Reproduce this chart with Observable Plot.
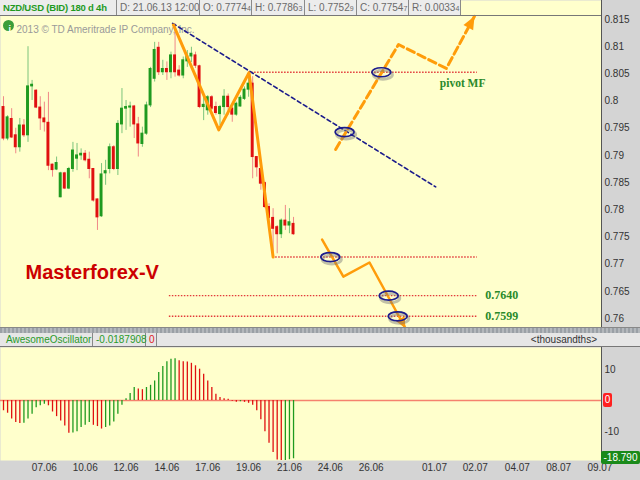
<!DOCTYPE html>
<html><head><meta charset="utf-8">
<script src="https://cdn.jsdelivr.net/npm/d3@7"></script>
<script src="https://cdn.jsdelivr.net/npm/@observablehq/plot@0.6"></script>
<style>
html,body{margin:0;padding:0;background:#fff;}
#wrap{position:relative;width:640px;height:480px;overflow:hidden;background:#d4d4d4;font-family:"Liberation Sans",Arial,sans-serif;}
#wrap svg{position:absolute;left:0;}
.hdr{position:absolute;left:0;top:0;height:15px;display:flex;font-size:10px;line-height:15px;}
.hdr span{display:block;box-sizing:border-box;height:15px;border-right:1px solid #8a8a8a;background:#ececec;color:#6a6a6a;padding-left:3px;white-space:nowrap;overflow:hidden;}
.hdr span.sym{color:#1f9a1f;font-weight:bold;padding-left:3px;font-size:9.5px;letter-spacing:-0.2px;}
.hdr small{font-size:7px;}
.hline{position:absolute;left:0;width:601px;height:1px;background:#777;}
.vline{position:absolute;left:601px;width:1px;background:#555;}
.sep{position:absolute;left:0;top:327px;width:640px;height:6px;background:repeating-linear-gradient(90deg,#9aa0a6 0 2px,#b4b8bc 2px 4px);border-top:1px solid #888;box-sizing:border-box;}
.ohdr{position:absolute;left:0;top:333px;width:640px;height:14px;background:#e6e6e6;border-bottom:1px solid #777;box-sizing:border-box;font-size:10px;line-height:13px;}
.ohdr span{position:absolute;top:0;height:13px;box-sizing:border-box;white-space:nowrap;}
.box{position:absolute;font-size:10px;line-height:13px;color:#fff;text-align:center;border-radius:2px;}
</style></head><body><div id="wrap"></div>
<script>
// ---------------- DATA ----------------
const candleOpen  = [0.7989,0.7931,0.7967,0.7937,0.7915,0.7955,0.7937,0.8027,0.8019,0.7988,0.7968,0.7960,0.7883,0.7874,0.7823,0.7867,0.7839,0.7875,0.7894,0.7900,0.7903,0.7892,0.7875,0.7819,0.7788,0.7867,0.7875,0.7915,0.7875,0.7957,0.7986,0.7988,0.7990,0.7957,0.7921,0.7940,0.7992,0.8041,0.8098,0.8053,0.8059,0.8053,0.8084,0.8056,0.8047,0.8073,0.8082,0.8084,0.8064,0.7989,0.7983,0.8007,0.7989,0.7976,0.7989,0.8008,0.7986,0.7975,0.7990,0.8004,0.8021,0.8032,0.7897,0.7875,0.7849,0.7805,0.7785,0.7768,0.7755,0.7780,0.7771,0.7774];
const candleHigh  = [0.8008,0.7973,0.7986,0.7950,0.7968,0.7966,0.8100,0.8038,0.8021,0.8008,0.7998,0.8016,0.7884,0.7897,0.7869,0.7869,0.7878,0.7924,0.7922,0.7912,0.7909,0.7906,0.7876,0.7820,0.7885,0.7891,0.7921,0.7918,0.7964,0.8023,0.8001,0.7998,0.7992,0.7970,0.7952,0.7998,0.8062,0.8108,0.8108,0.8075,0.8072,0.8090,0.8142,0.8065,0.8081,0.8093,0.8099,0.8090,0.8066,0.8007,0.8010,0.8010,0.7998,0.7992,0.8021,0.8013,0.7989,0.7998,0.8010,0.8026,0.8050,0.8045,0.7898,0.7891,0.7851,0.7811,0.7802,0.7771,0.7783,0.7808,0.7802,0.7786];
const candleLow   = [0.7927,0.7927,0.7931,0.7903,0.7906,0.7933,0.7924,0.8001,0.7986,0.7946,0.7943,0.7872,0.7860,0.7872,0.7822,0.7837,0.7837,0.7869,0.7872,0.7891,0.7888,0.7857,0.7814,0.7762,0.7786,0.7845,0.7866,0.7872,0.7863,0.7940,0.7946,0.7952,0.7931,0.7897,0.7915,0.7937,0.7988,0.8035,0.8047,0.8047,0.8038,0.8041,0.8044,0.8044,0.8041,0.8062,0.8071,0.8060,0.7986,0.7964,0.7974,0.7983,0.7974,0.7955,0.7974,0.7974,0.7961,0.7972,0.7989,0.8001,0.8007,0.7857,0.7860,0.7836,0.7802,0.7765,0.7715,0.7719,0.7747,0.7762,0.7756,0.7753];
const candleClose = [0.7931,0.7970,0.7933,0.7915,0.7955,0.7937,0.8027,0.8030,0.7988,0.7968,0.7961,0.7881,0.7873,0.7886,0.7867,0.7839,0.7875,0.7909,0.7900,0.7903,0.7891,0.7875,0.7817,0.7786,0.7865,0.7871,0.7915,0.7875,0.7958,0.7986,0.7989,0.7990,0.7957,0.7922,0.7940,0.7992,0.8059,0.8094,0.8053,0.8059,0.8053,0.8084,0.8053,0.8047,0.8075,0.8082,0.8087,0.8065,0.7989,0.7993,0.8007,0.7986,0.7978,0.7989,0.8008,0.7989,0.7975,0.7995,0.8006,0.8021,0.8032,0.7897,0.7878,0.7848,0.7805,0.7785,0.7765,0.7755,0.7780,0.7771,0.7777,0.7755];
const aoValues = [-3.3,-4.1,-6.0,-7.1,-7.4,-7.3,-6.0,-4.4,-2.3,-1.7,-1.2,-1.7,-3.7,-5.2,-6.6,-8.2,-10.6,-10.5,-10.1,-8.7,-8.0,-7.1,-8.0,-8.4,-9.2,-8.7,-8.2,-6.9,-4.4,-1.5,0.6,2.3,4.2,3.7,3.5,4.2,4.9,6.3,9.0,11.0,12.5,13.3,13.5,12.8,12.5,12.4,12.0,11.2,10.1,8.5,6.3,4.2,2.0,1.0,0.6,0.4,-0.2,-0.6,-0.4,-0.6,-0.9,-1.5,-3.3,-6.2,-10.1,-13.8,-16.8,-19.2,-19.5,-19.4,-19.1,-18.79];
const priceTicks = [0.76,0.765,0.77,0.775,0.78,0.785,0.79,0.795,0.8,0.805,0.81,0.815];
const aoTicks = [10,-10];
const dateTickBars = [10,20,30,40,50,60,70,80,90,105.5,115.5,125.8,135.9,146];
const dateTickLabels = ["07.06","10.06","12.06","14.06","17.06","19.06","21.06","24.06","26.06","01.07","02.07","04.07","08.07","09.07"];
const zigzagBar = [41.6,52.7,60.1,66.0];
const zigzagPrice = [0.8140,0.7947,0.8052,0.7713];
const trendBar = [41.4,105.8];
const trendPrice = [0.8143,0.7842];
const levelPrice = [0.8053,0.7713,0.7642,0.7604];
const levelStartBar = [60.0,65.9,40.6,40.6];
const levelEndBar = [116.0,116.0,116.0,116.0];
const levelLabels = ["","","0.7640","0.7599"];
const upPathBar = [81.3,96.7,108.4,115.3];
const upPathPrice = [0.7911,0.8104,0.8060,0.8156];
const downPathBar = [78.0,83.2,89.6,98.4];
const downPathPrice = [0.7745,0.7677,0.7703,0.7582];
const ellipseBar = [92.5,83.5,80.0,94.3,96.5];
const ellipsePrice = [0.8053,0.7943,0.7713,0.7642,0.7604];
const pivotNote = {bar:112.4, price:0.8032, text:"pivot MF"};
const brandNote = {bar:5.4, price:0.7685, text:"Masterforex-V"};
const copyrightText = "2013 \u00a9 TD Ameritrade IP Company, Inc.";
const headerSymbol = "NZD/USD (BID) 180 d 4h";
const headerFields = [["D: 21.06.13 12:00",""],["O: 0.7774","4"],["H: 0.7786","3"],["L: 0.7752","9"],["C: 0.7754","7"],["R: 0.0033","4"]];
const oscName = "AwesomeOscillator";
const oscValueText = "-0.0187908";
const oscZeroText = "0";
const oscUnits = "<thousandths>";

// ---------------- TABLES ----------------
const candles = candleOpen.map((o,i)=>({i, open:o, high:candleHigh[i], low:candleLow[i], close:candleClose[i], up:candleClose[i]>=o}));
const ao = aoValues.map((v,i)=>({i, v, up: i>0 && v>aoValues[i-1]}));
const zigzag = zigzagBar.map((b,k)=>({b, p:zigzagPrice[k]}));
const trend = trendBar.map((b,k)=>({b, p:trendPrice[k]}));
const levels = levelPrice.map((p,k)=>({p, s:levelStartBar[k], e:levelEndBar[k], label:levelLabels[k]}));
const upPath = upPathBar.map((b,k)=>({b, p:upPathPrice[k]}));
const downPath = downPathBar.map((b,k)=>({b, p:downPathPrice[k]}));
const ellipses = ellipseBar.map((b,k)=>({b, p:ellipsePrice[k]}));
const dateTicks = dateTickBars.map((b,k)=>({b, label:dateTickLabels[k]}));

// ---------------- LAYOUT ----------------
const xDomain = [-0.734, 146.39];
const priceDomain = [0.75834, 0.8185];
const priceH = 327, plotW = 601;
const kx = plotW/(xDomain[1]-xDomain[0]);
const ky = priceH/(priceDomain[1]-priceDomain[0]);
const ORANGE = "#ff9c0a", NAVY = "#1c1c8c", GREEN = "#1f9a1f", RED = "#e01010";
const FONT = "'Liberation Sans', Arial, sans-serif";

function headSymbol(pts, L, Wd){
  const a = pts[pts.length-2], z = pts[pts.length-1];
  const dx = (z.b-a.b)*kx, dy = -(z.p-a.p)*ky, n = Math.hypot(dx,dy);
  const ux = dx/n, uy = dy/n;
  return {draw(ctx){
    const bx=-L*ux, by=-L*uy, px=-uy*Wd/2, py=ux*Wd/2;
    ctx.moveTo(0,0); ctx.lineTo(bx+px,by+py); ctx.lineTo(bx-px,by-py); ctx.closePath();
  }};
}
const ellipseSymbol = {draw(ctx){
  const rx=9.5, ry=4.5, k=0.5523;
  ctx.moveTo(rx,0);
  ctx.bezierCurveTo(rx,k*ry,k*rx,ry,0,ry);
  ctx.bezierCurveTo(-k*rx,ry,-rx,k*ry,-rx,0);
  ctx.bezierCurveTo(-rx,-k*ry,-k*rx,-ry,0,-ry);
  ctx.bezierCurveTo(k*rx,-ry,rx,-k*ry,rx,0);
  ctx.closePath();
}};

const pricePlot = Plot.plot({
  width: 640, height: priceH,
  marginLeft: 0, marginRight: 640-plotW, marginTop: 0, marginBottom: 0,
  x: {domain: xDomain, axis: null},
  y: {domain: priceDomain, axis: null},
  style: {background: "#d4d4d4", fontFamily: FONT, fontSize: "10px", overflow: "visible"},
  marks: [
    Plot.frame({fill: "#ffffcc", stroke: null}),
    Plot.dot([0], {frameAnchor: "top-left", dx: 8, dy: 25, r: 5.5, fill: "#3a9e3a"}),
    Plot.text(["i"], {frameAnchor: "top-left", dx: 8, dy: 25, text: d=>d, fill: "#fff", fontWeight: "bold", fontSize: 9}),
    Plot.text([copyrightText], {frameAnchor: "top-left", dx: 16, dy: 25, text: d=>d, textAnchor: "start", fill: "#9a9a9a", fontSize: 10}),
    Plot.ruleY(levels, {y: "p", x1: "s", x2: "e", stroke: "#e23a3a", strokeWidth: 1.4, strokeDasharray: "1.5,1.5"}),
    Plot.ruleX(candles, {x: "i", y1: "low", y2: "high", stroke: d=>d.up ? "#7cc47c" : "#f08888", strokeWidth: 1}),
    Plot.rect(candles, {x1: d=>d.i-0.36, x2: d=>d.i+0.36, y1: "open", y2: "close", fill: d=>d.up ? GREEN : RED, insetTop: -0.5, insetBottom: -0.5}),
    Plot.line(trend, {x: "b", y: "p", stroke: NAVY, strokeWidth: 1.6, strokeDasharray: "4,3"}),
    Plot.line(zigzag, {x: "b", y: "p", stroke: ORANGE, strokeWidth: 3, strokeLinejoin: "round"}),
    Plot.line(upPath, {x: "b", y: "p", stroke: ORANGE, strokeWidth: 3, strokeDasharray: "8,4"}),
    Plot.dot(upPath.slice(-1), {x: "b", y: "p", symbol: headSymbol(upPath, 13, 11), r: 5, fill: ORANGE, stroke: null}),
    Plot.line(downPath, {x: "b", y: "p", stroke: ORANGE, strokeWidth: 2.5}),
    Plot.dot(downPath.slice(-1), {x: "b", y: "p", symbol: headSymbol(downPath, 11, 10), r: 5, fill: ORANGE, stroke: null}),
    Plot.dot(ellipses, {x: "b", y: "p", symbol: ellipseSymbol, r: 5, fill: "none", stroke: "#777", strokeOpacity: 0.45, strokeWidth: 3, dx: 1.5, dy: 2.5}),
    Plot.dot(ellipses, {x: "b", y: "p", symbol: ellipseSymbol, r: 5, fill: "none", stroke: NAVY, strokeWidth: 1.7}),
    Plot.text(levels.filter(d=>d.label), {x: "e", y: "p", text: "label", dx: 8, textAnchor: "start", fill: "#2a8a2a", fontWeight: "bold", fontSize: 12, fontFamily: "'Liberation Serif', serif"}),
    Plot.text([pivotNote], {x: "bar", y: "price", text: "text", fill: "#2a8a2a", fontWeight: "bold", fontSize: 11.5, fontFamily: "'Liberation Serif', serif"}),
    Plot.text([brandNote], {x: "bar", y: "price", text: "text", textAnchor: "start", fill: "#cc0000", fontWeight: "bold", fontSize: 20}),
    Plot.text(priceTicks, {y: d=>d, frameAnchor: "right", dx: 3, textAnchor: "start", text: d=>String(+d.toFixed(3)), fill: "#333", fontSize: 10})
  ]
});

const aoDomain = [-19.35, 17.1];
const aoPlot = Plot.plot({
  width: 640, height: 133,
  marginLeft: 0, marginRight: 640-plotW, marginTop: 0, marginBottom: 20,
  x: {domain: xDomain, axis: null},
  y: {domain: aoDomain, axis: null, clamp: true},
  style: {background: "#d4d4d4", fontFamily: FONT, fontSize: "10px", overflow: "visible"},
  marks: [
    Plot.frame({fill: "#ffffcc", stroke: null}),
    Plot.ruleY([0], {stroke: "#f5826e", strokeWidth: 1.6}),
    Plot.ruleX(ao, {x: "i", y1: 0, y2: "v", stroke: d=>d.up ? GREEN : RED, strokeWidth: 1.3}),
    Plot.text(aoTicks, {y: d=>d, frameAnchor: "right", dx: 3, textAnchor: "start", text: d=>String(d), fill: "#333", fontSize: 10}),
    Plot.text(dateTicks, {x: "b", frameAnchor: "bottom", dy: 10, text: "label", fill: "#333", fontSize: 10})
  ]
});

// ---------------- ASSEMBLE ----------------
const wrap = document.getElementById("wrap");
pricePlot.style.top = "0px";
aoPlot.style.top = "347px";
wrap.appendChild(pricePlot);
wrap.appendChild(aoPlot);

const hdr = document.createElement("div"); hdr.className = "hdr";
const widths = [117,83,52,53,52,52,52];
const s0 = document.createElement("span"); s0.className = "sym"; s0.style.width = widths[0]+"px"; s0.textContent = headerSymbol; hdr.appendChild(s0);
headerFields.forEach((f,k)=>{
  const s = document.createElement("span"); s.style.width = widths[k+1]+"px";
  s.textContent = f[0];
  if (f[1]) { const sm = document.createElement("small"); sm.textContent = f[1]; s.appendChild(sm); }
  hdr.appendChild(s);
});
wrap.appendChild(hdr);
const hl = document.createElement("div"); hl.className = "hline"; hl.style.top = "15px"; wrap.appendChild(hl);

const v1 = document.createElement("div"); v1.className = "vline"; v1.style.top = "0px"; v1.style.height = "327px"; wrap.appendChild(v1);
const v2 = document.createElement("div"); v2.className = "vline"; v2.style.top = "347px"; v2.style.height = "113px"; wrap.appendChild(v2);

const sep = document.createElement("div"); sep.className = "sep"; wrap.appendChild(sep);

const oh = document.createElement("div"); oh.className = "ohdr";
const cells = [
  {t: oscName, l: 0, w: 93, c: "#2a9a2a", pad: 6},
  {t: oscValueText, l: 93, w: 53, c: "#2a9a2a", pad: 3},
  {t: oscZeroText, l: 146, w: 11, c: "#e02020", pad: 3}
];
cells.forEach(c=>{
  const s = document.createElement("span");
  s.textContent = c.t; s.style.left = c.l+"px"; s.style.width = c.w+"px"; s.style.color = c.c;
  s.style.paddingLeft = c.pad+"px"; s.style.borderRight = "1px solid #888";
  oh.appendChild(s);
});
const u = document.createElement("span"); u.textContent = oscUnits; u.style.right = "43px"; u.style.color = "#333"; oh.appendChild(u);
wrap.appendChild(oh);

const zb = document.createElement("div"); zb.className = "box";
zb.textContent = "0"; Object.assign(zb.style, {left: "603px", top: "393px", width: "9px", height: "14px", background: "#ff2020"});
wrap.appendChild(zb);
const lb = document.createElement("div"); lb.className = "box";
lb.textContent = aoValues[aoValues.length-1].toFixed(3);
Object.assign(lb.style, {left: "601px", top: "451px", width: "39px", height: "13px", background: "#1a8a1a"});
wrap.appendChild(lb);
</script></body></html>
